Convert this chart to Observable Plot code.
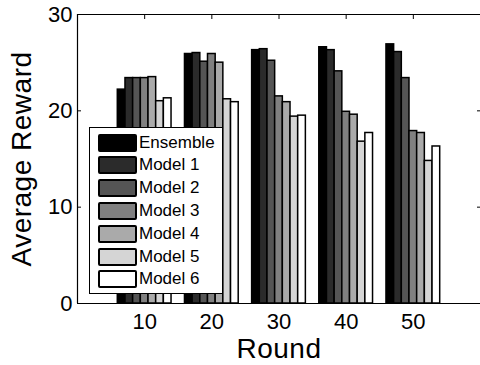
<!DOCTYPE html>
<html>
<head>
<meta charset="utf-8">
<script src="https://cdn.jsdelivr.net/npm/d3@7"></script>
<script src="https://cdn.jsdelivr.net/npm/@observablehq/plot@0.6"></script>
<style>
  html, body { margin: 0; padding: 0; background: #fff; }
  #wrap { position: relative; width: 480px; height: 365px; overflow: hidden; font-family: "Liberation Sans", Arial, sans-serif; }
  #wrap svg { font-family: "Liberation Sans", Arial, sans-serif; }
  #wrap svg [aria-label="x-axis label"] text, #wrap svg [aria-label="y-axis label"] text { font-size: 28px; letter-spacing: 0.5px; }
  #legend { position: absolute; left: 89px; top: 127px; width: 132px; height: 165px; background: #fff; border: 1px solid #000; }
  .row { position: absolute; left: 0; height: 23px; display: flex; align-items: center; }
  .sw { width: 35px; height: 14px; margin-left: 8px; border: 2px solid #000; border-radius: 2px; }
  .lb { margin-left: 2px; font-size: 17px; color: #000; }
</style>
</head>
<body>
<div id="wrap"></div>
<script>
const rounds = [10, 20, 30, 40, 50];
const seriesNames = ["Ensemble", "Model 1", "Model 2", "Model 3", "Model 4", "Model 5", "Model 6"];
const seriesColors = ["#000000", "#2b2b2b", "#555555", "#808080", "#aaaaaa", "#d5d5d5", "#ffffff"];
const ensemble = [22.2, 25.9, 26.3, 26.6, 26.9];
const model1   = [23.4, 26.0, 26.4, 26.3, 26.1];
const model2   = [23.4, 25.1, 25.2, 24.1, 23.4];
const model3   = [23.4, 25.9, 21.5, 19.9, 17.9];
const model4   = [23.5, 25.0, 20.9, 19.6, 17.7];
const model5   = [21.0, 21.2, 19.4, 16.8, 14.8];
const model6   = [21.3, 20.9, 19.5, 17.7, 16.3];
const yTicks = [0, 10, 20, 30];

const seriesValues = [ensemble, model1, model2, model3, model4, model5, model6];
const nSeries = seriesNames.length;
const groupWidth = 10 * Math.min(0.8, nSeries / (nSeries + 1.5));
const barW = groupWidth / nSeries;

const bars = [];
seriesNames.forEach((name, i) => {
  rounds.forEach((r, j) => {
    const c = r + (i - (nSeries - 1) / 2) * barW;
    bars.push({series: name, round: r, x1: c - barW / 2, x2: c + barW / 2, value: seriesValues[i][j]});
  });
});

const plot = Plot.plot({
  width: 480,
  height: 365,
  marginLeft: 77,
  marginRight: 0,
  marginTop: 14,
  marginBottom: 62,
  style: {background: "#fff", color: "#000"},
  x: {domain: [0, 60]},
  y: {domain: [0, 30]},
  color: {domain: seriesNames, range: seriesColors},
  marks: [
    Plot.rectY(bars, {x1: "x1", x2: "x2", y1: 0, y2: "value", fill: "series", stroke: "#000", strokeWidth: 1.5}),
    Plot.ruleY([0, 30], {stroke: "#000", strokeWidth: 1.2}),
    Plot.ruleX([0], {stroke: "#000", strokeWidth: 1.2}),
    Plot.axisX({ticks: rounds, tickSize: 0, tickPadding: 10, fontSize: 22, label: "Round", labelAnchor: "center", labelOffset: 54, labelArrow: "none"}),
    Plot.axisX({anchor: "top", ticks: rounds, tickSize: -4, tickFormat: () => "", label: null}),
    Plot.axisY({ticks: yTicks, tickSize: -4, tickPadding: 9, fontSize: 22, label: "Average Reward", labelAnchor: "center", labelOffset: 66, labelArrow: "none"}),
    Plot.axisY({anchor: "right", ticks: yTicks, tickSize: -4, tickFormat: () => "", label: null})
  ]
});
document.getElementById("wrap").appendChild(plot);

const legend = document.createElement("div");
legend.id = "legend";
seriesNames.forEach((name, i) => {
  const row = document.createElement("div");
  row.className = "row";
  row.style.top = (3 + i * 22.8) + "px";
  const sw = document.createElement("div");
  sw.className = "sw";
  sw.style.background = seriesColors[i];
  const lb = document.createElement("span");
  lb.className = "lb";
  lb.textContent = name;
  row.appendChild(sw);
  row.appendChild(lb);
  legend.appendChild(row);
});
document.getElementById("wrap").appendChild(legend);
</script>
</body>
</html>
